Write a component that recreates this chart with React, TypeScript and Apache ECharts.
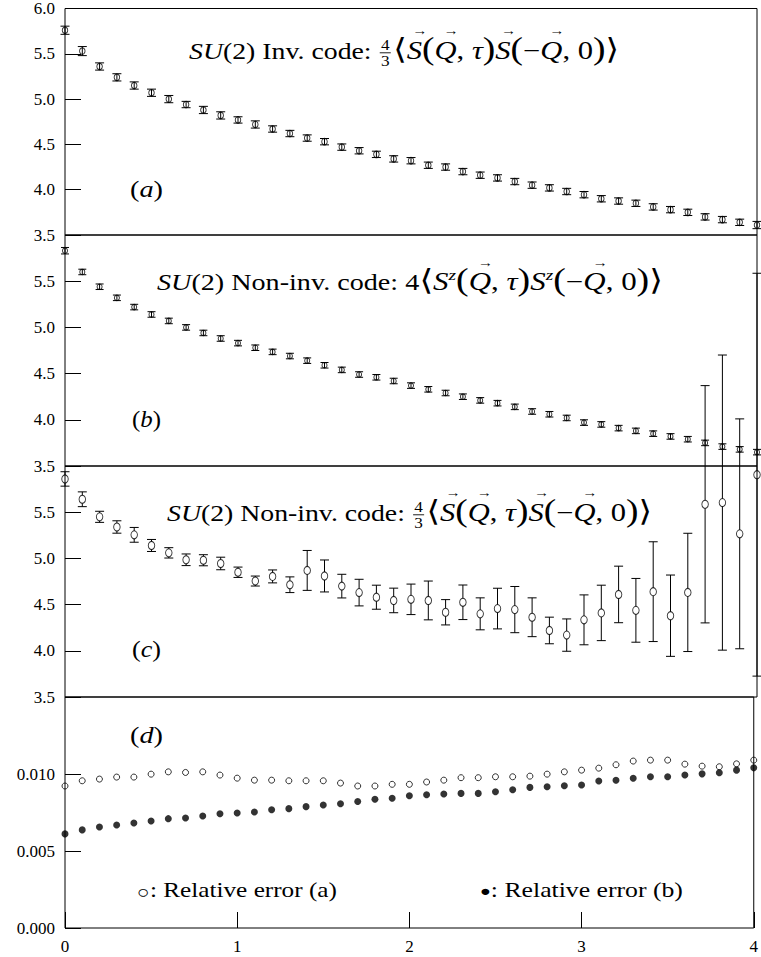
import React, { useEffect, useRef } from "react";
import * as echarts from "echarts";

// ---------- data ----------
const tau = [0.0, 0.1, 0.2, 0.3, 0.4, 0.5, 0.6, 0.7, 0.8, 0.9, 1.0, 1.1, 1.2, 1.3, 1.4, 1.5, 1.6, 1.7, 1.8, 1.9, 2.0,
  2.1, 2.2, 2.3, 2.4, 2.5, 2.6, 2.7, 2.8, 2.9, 3.0, 3.1, 3.2, 3.3, 3.4, 3.5, 3.6, 3.7, 3.8, 3.9, 4.0];

// (a) SU(2) invariant code
const invVals = [5.76, 5.53, 5.36, 5.24, 5.15, 5.07, 5.0, 4.94, 4.88, 4.82, 4.77, 4.72, 4.67, 4.62, 4.57, 4.53, 4.47, 4.43, 4.39, 4.34,
  4.32, 4.27, 4.25, 4.2, 4.16, 4.13, 4.09, 4.05, 4.02, 3.98, 3.945, 3.9, 3.875, 3.85, 3.81, 3.78, 3.75, 3.7, 3.67, 3.64, 3.61];
const invErr = [0.045, 0.05, 0.04, 0.04, 0.04, 0.04, 0.04, 0.035, 0.04, 0.04, 0.035, 0.04, 0.035, 0.035, 0.035, 0.035, 0.035, 0.035, 0.035, 0.035,
  0.035, 0.035, 0.035, 0.035, 0.035, 0.035, 0.035, 0.035, 0.035, 0.035, 0.035, 0.035, 0.035, 0.035, 0.035, 0.035, 0.035, 0.035, 0.035, 0.035, 0.04];

// (b) non-invariant code, 4<Sz Sz>
const szVals = [5.83, 5.6, 5.44, 5.32, 5.22, 5.14, 5.07, 5.0, 4.94, 4.88, 4.83, 4.78, 4.735, 4.69, 4.64, 4.59, 4.54, 4.49, 4.46, 4.42,
  4.37, 4.33, 4.29, 4.25, 4.21, 4.18, 4.14, 4.09, 4.06, 4.02, 3.97, 3.95, 3.91, 3.88, 3.85, 3.82, 3.79, 3.75, 3.71, 3.68, 3.65];
const szErr = [0.035, 0.03, 0.03, 0.03, 0.03, 0.03, 0.03, 0.03, 0.03, 0.03, 0.03, 0.03, 0.03, 0.03, 0.03, 0.03, 0.03, 0.03, 0.03, 0.03,
  0.03, 0.03, 0.03, 0.03, 0.03, 0.03, 0.03, 0.03, 0.03, 0.03, 0.03, 0.03, 0.03, 0.03, 0.03, 0.03, 0.03, 0.03, 0.03, 0.03, 0.03];

// (c) non-invariant code, 4/3 <S S>
const nonInvVals = [5.86, 5.64, 5.45, 5.34, 5.255, 5.14, 5.06, 4.985, 4.98, 4.945, 4.85, 4.755, 4.805, 4.715, 4.87, 4.81, 4.7, 4.63, 4.58, 4.545,
  4.557, 4.545, 4.417, 4.525, 4.4, 4.457, 4.446, 4.363, 4.22, 4.17, 4.335, 4.41, 4.61, 4.438, 4.64, 4.38, 4.632, 5.586, 5.604, 5.266, 5.906];
const nonInvErr = [0.078, 0.08, 0.06, 0.067, 0.08, 0.065, 0.056, 0.063, 0.06, 0.068, 0.056, 0.054, 0.07, 0.085, 0.216, 0.173, 0.128, 0.144, 0.13, 0.133,
  0.165, 0.21, 0.137, 0.187, 0.173, 0.22, 0.25, 0.21, 0.144, 0.175, 0.27, 0.3, 0.306, 0.345, 0.54, 0.44, 0.64, 1.284, 1.597, 1.244, 2.18];

// (d) relative errors
const relErrA = [0.00922, 0.00956, 0.00967, 0.0098, 0.0098, 0.00999, 0.01014, 0.0101, 0.01014, 0.00993, 0.00973, 0.0096, 0.0096, 0.00956, 0.00956,
  0.00956, 0.00941, 0.00922, 0.00922, 0.00933, 0.00933, 0.00948, 0.0096, 0.00976, 0.00976, 0.00982, 0.00982, 0.00986, 0.00999, 0.01014,
  0.01025, 0.01038, 0.0106, 0.01084, 0.0109, 0.0109, 0.01064, 0.01051, 0.01047, 0.01066, 0.0109];
const relErrB = [0.00611, 0.00637, 0.00656, 0.00669, 0.00682, 0.00695, 0.0071, 0.00714, 0.00727, 0.00742, 0.00747, 0.00753, 0.00768, 0.00775, 0.00788,
  0.00799, 0.00807, 0.00822, 0.00836, 0.00842, 0.00859, 0.00865, 0.0087, 0.00874, 0.00874, 0.00885, 0.00898, 0.00913, 0.00917, 0.00924,
  0.00928, 0.00954, 0.00959, 0.00972, 0.00982, 0.00982, 0.00993, 0.01001, 0.01008, 0.01025, 0.0104];

// ---------- layout ----------
const FONT = "'Liberation Serif', 'DejaVu Serif', serif";
const GRID_LEFT = 65;
const GRID_W = 692;
const PANEL_TOPS = [4, 235, 466, 697];
const PANEL_H = 231;

type Seg = { t?: string; it?: boolean; vec?: boolean; sup?: boolean; frac?: [string, string]; s?: number; mid?: number };

function mathGroup(x0: number, target: number, baseline: number, F: number, segs: Seg[]) {
  const canvas = document.createElement("canvas");
  const ctx = canvas.getContext("2d") as CanvasRenderingContext2D;
  const meas = (t: string, size: number, it?: boolean) => {
    ctx.font = `${it ? "italic " : ""}${size}px ${FONT}`;
    return ctx.measureText(t).width;
  };
  const mk = (x: number, y: number, t: string, size: number, it?: boolean, align = "left") => ({
    type: "text",
    x,
    y,
    silent: true,
    style: {
      text: t,
      fontSize: size,
      fontFamily: FONT,
      fontStyle: it ? "italic" : "normal",
      fill: "#000",
      align,
      textAlign: align,
      verticalAlign: "middle",
      textVerticalAlign: "middle",
    },
  });
  const children: any[] = [];
  let x = 0;
  for (const sg of segs) {
    if (sg.frac) {
      const fs = F * 0.62;
      const w = Math.max(meas(sg.frac[0], fs), meas(sg.frac[1], fs)) + 4;
      const ax = baseline - F * 0.27;
      children.push(mk(x + w / 2, ax - fs * 0.52, sg.frac[0], fs, false, "center"));
      children.push(mk(x + w / 2, ax + fs * 0.58, sg.frac[1], fs, false, "center"));
      children.push({ type: "line", silent: true, shape: { x1: x + 1, y1: ax, x2: x + w - 1, y2: ax }, style: { stroke: "#000", lineWidth: 0.8 } });
      x += w + 1;
      continue;
    }
    const size = sg.sup ? F * 0.68 : F * (sg.s || 1);
    const base = sg.sup ? baseline - F * 0.42 : baseline;
    const w = meas(sg.t as string, size, sg.it);
    const y = sg.mid !== undefined ? baseline - sg.mid * F : base - 0.34 * size;
    children.push(mk(x, y, sg.t as string, size, sg.it));
    if (sg.vec) children.push(mk(x + w / 2 + F * 0.2, base - F * 1.2, "→", F * 0.55, false, "center"));
    x += w;
  }
  return { type: "group", x: x0, y: 0, scaleX: target / x, children };
}

function errRender(cap: number, gap: number) {
  return (params: any, api: any) => {
    const x = api.value(0);
    const y = api.value(1);
    const lo = api.value(2);
    const hi = api.value(3);
    const pc = api.coord([x, y]);
    const pt = api.coord([x, hi]);
    const pb = api.coord([x, lo]);
    const st = { stroke: "#000", lineWidth: 1 };
    const ch: any[] = [];
    if (gap > 0) {
      ch.push({ type: "line", shape: { x1: pt[0], y1: pt[1], x2: pt[0], y2: pc[1] - gap }, style: st });
      ch.push({ type: "line", shape: { x1: pb[0], y1: pc[1] + gap, x2: pb[0], y2: pb[1] }, style: st });
    } else {
      ch.push({ type: "line", shape: { x1: pt[0], y1: pt[1], x2: pb[0], y2: pb[1] }, style: st });
    }
    ch.push({ type: "line", shape: { x1: pt[0] - cap, y1: pt[1], x2: pt[0] + cap, y2: pt[1] }, style: st });
    ch.push({ type: "line", shape: { x1: pb[0] - cap, y1: pb[1], x2: pb[0] + cap, y2: pb[1] }, style: st });
    return { type: "group", children: ch };
  };
}

function buildOption() {
  const labelStyle = { color: "#000", fontFamily: FONT, fontSize: 17 };
  const grids = PANEL_TOPS.map((top) => ({
    left: GRID_LEFT,
    top,
    width: GRID_W,
    height: PANEL_H,
    show: true,
    borderColor: "#000",
    borderWidth: 1,
    backgroundColor: "transparent",
  }));
  const xAxes = [0, 1, 2, 3].map((i) => ({
    gridIndex: i,
    type: "value",
    min: 0,
    max: 4,
    interval: 1,
    axisLine: { show: false },
    axisTick: i === 3 ? { show: true, inside: true, length: 16, lineStyle: { color: "#000", width: 1 } } : { show: false },
    axisLabel: i === 3 ? { show: true, margin: 10, ...labelStyle, formatter: (v: number) => String(v) } : { show: false },
    splitLine: { show: false },
  }));
  const yAx = (i: number, min: number, max: number, interval: number, digits: number, showMax: boolean) => ({
    gridIndex: i,
    type: "value",
    min,
    max,
    interval,
    axisLine: { show: false },
    axisTick: { show: true, inside: true, length: 16, lineStyle: { color: "#000", width: 1 } },
    axisLabel: { show: true, margin: 10, showMaxLabel: showMax, showMinLabel: true, ...labelStyle, formatter: (v: number) => v.toFixed(digits) },
    splitLine: { show: false },
  });
  const yAxes = [yAx(0, 3.5, 6.0, 0.5, 1, true), yAx(1, 3.5, 6.0, 0.5, 1, false), yAx(2, 3.5, 6.0, 0.5, 1, false), yAx(3, 0, 0.015, 0.005, 3, false)];

  const errData = (vals: number[], errs: number[]) => tau.map((x, k) => [x, vals[k], vals[k] - errs[k], vals[k] + errs[k]]);
  const ptData = (vals: number[]) => tau.map((x, k) => [x, vals[k]]);
  const hollow = { color: "rgba(0,0,0,0)", borderColor: "#000", borderWidth: 1 };

  const series: any[] = [
    { type: "custom", xAxisIndex: 0, yAxisIndex: 0, clip: false, renderItem: errRender(4.5, 0), data: errData(invVals, invErr), encode: { x: 0, y: 1 } },
    { type: "scatter", xAxisIndex: 0, yAxisIndex: 0, clip: false, symbol: "circle", symbolSize: [5.5, 6.5], itemStyle: hollow, data: ptData(invVals) },
    { type: "custom", xAxisIndex: 1, yAxisIndex: 1, clip: false, renderItem: errRender(4, 0), data: errData(szVals, szErr), encode: { x: 0, y: 1 } },
    { type: "scatter", xAxisIndex: 1, yAxisIndex: 1, clip: false, symbol: "circle", symbolSize: [5, 5.5], itemStyle: hollow, data: ptData(szVals) },
    { type: "custom", xAxisIndex: 2, yAxisIndex: 2, clip: false, renderItem: errRender(4.5, 4), data: errData(nonInvVals, nonInvErr), encode: { x: 0, y: 1 } },
    { type: "scatter", xAxisIndex: 2, yAxisIndex: 2, clip: false, symbol: "circle", symbolSize: [6.5, 8], itemStyle: hollow, data: ptData(nonInvVals) },
    { type: "scatter", xAxisIndex: 3, yAxisIndex: 3, clip: false, symbol: "circle", symbolSize: [6, 6], itemStyle: hollow, data: ptData(relErrA) },
    { type: "scatter", xAxisIndex: 3, yAxisIndex: 3, clip: false, symbol: "circle", symbolSize: 7, itemStyle: { color: "#000" }, data: ptData(relErrB) },
  ];

  const F = 23;
  const titleA: Seg[] = [
    { t: "SU", it: true }, { t: "(2) Inv. code: " }, { frac: ["4", "3"] }, { t: "⟨", s: 1.25 },
    { t: "S", it: true, vec: true, s: 1.1 }, { t: "(", s: 1.35 }, { t: "Q", it: true, vec: true, s: 1.1 }, { t: ", ", s: 1.1 }, { t: "τ", it: true, s: 1.1 }, { t: ")", s: 1.35 },
    { t: "S", it: true, vec: true, s: 1.1 }, { t: "(", s: 1.35 }, { t: "−", s: 1.1 }, { t: "Q", it: true, vec: true, s: 1.1 }, { t: ", 0", s: 1.1 }, { t: ")", s: 1.35 }, { t: "⟩", s: 1.25 },
  ];
  const titleB: Seg[] = [
    { t: "SU", it: true }, { t: "(2) Non-inv. code: " }, { t: "4" }, { t: "⟨", s: 1.25 },
    { t: "S", it: true, s: 1.1 }, { t: "z", it: true, sup: true }, { t: "(", s: 1.35 }, { t: "Q", it: true, vec: true, s: 1.1 }, { t: ", ", s: 1.1 }, { t: "τ", it: true, s: 1.1 }, { t: ")", s: 1.35 },
    { t: "S", it: true, s: 1.1 }, { t: "z", it: true, sup: true }, { t: "(", s: 1.35 }, { t: "−", s: 1.1 }, { t: "Q", it: true, vec: true, s: 1.1 }, { t: ", 0", s: 1.1 }, { t: ")", s: 1.35 }, { t: "⟩", s: 1.25 },
  ];
  const titleC: Seg[] = [
    { t: "SU", it: true }, { t: "(2) Non-inv. code: " }, { frac: ["4", "3"] }, { t: "⟨", s: 1.25 },
    { t: "S", it: true, vec: true, s: 1.1 }, { t: "(", s: 1.35 }, { t: "Q", it: true, vec: true, s: 1.1 }, { t: ", ", s: 1.1 }, { t: "τ", it: true, s: 1.1 }, { t: ")", s: 1.35 },
    { t: "S", it: true, vec: true, s: 1.1 }, { t: "(", s: 1.35 }, { t: "−", s: 1.1 }, { t: "Q", it: true, vec: true, s: 1.1 }, { t: ", 0", s: 1.1 }, { t: ")", s: 1.35 }, { t: "⟩", s: 1.25 },
  ];
  const lab = (c: string): Seg[] => [{ t: "(" }, { t: c, it: true }, { t: ")" }];

  const graphic = [
    mathGroup(189, 430, 59, F, titleA),
    mathGroup(157, 506, 290, F, titleB),
    mathGroup(167, 485, 521, F, titleC),
    mathGroup(130, 33, 197, 24, lab("a")),
    mathGroup(132, 29, 427, 24, lab("b")),
    mathGroup(132, 29, 657, 24, lab("c")),
    mathGroup(130, 33, 743, 24, lab("d")),
    mathGroup(137, 200, 897, 21, [{ t: "○", s: 0.85, mid: 0.27 }, { t: ": Relative error (a)" }]),
    mathGroup(480, 203, 897, 21, [{ t: "●", s: 0.7, mid: 0.3 }, { t: ": Relative error (b)" }]),
  ];

  return {
    animation: false,
    backgroundColor: "#fff",
    grid: grids,
    xAxis: xAxes,
    yAxis: yAxes,
    series,
    graphic,
  };
}

export default function App() {
  const ref = useRef<HTMLDivElement>(null);
  useEffect(() => {
    const chart = echarts.init(ref.current as HTMLDivElement, null, { renderer: "svg" });
    chart.setOption(buildOption() as any);
    return () => chart.dispose();
  }, []);
  return <div ref={ref} style={{ position: "fixed", left: 0, top: 0, width: 761, height: 957, background: "#fff" }} />;
}
